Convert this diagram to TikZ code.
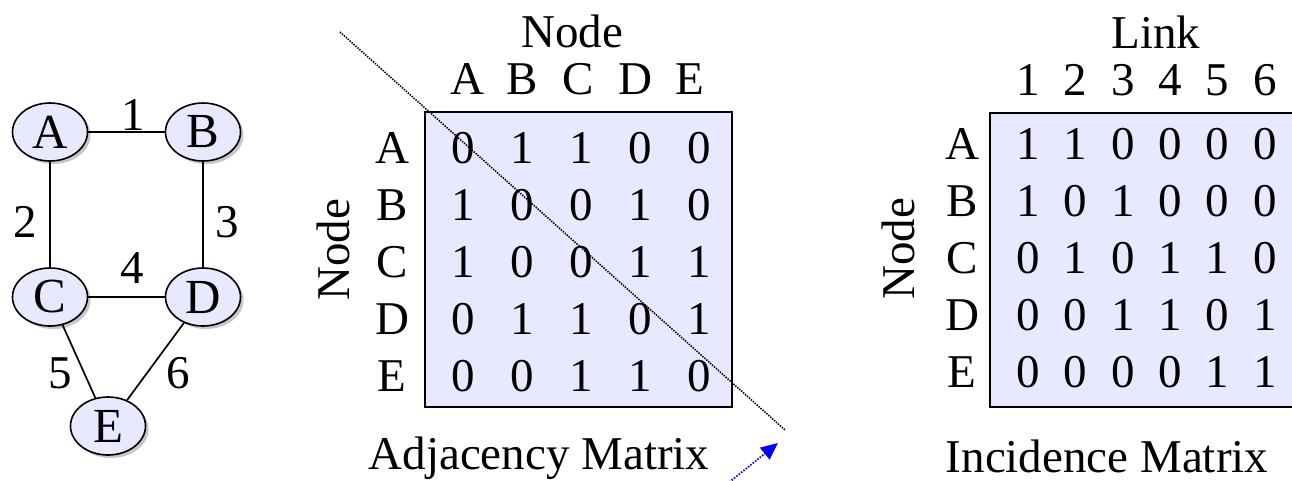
\documentclass[tikz,border=0pt]{standalone}
\usepackage{fontspec}
\setmainfont{Liberation Serif}
\usetikzlibrary{shapes.geometric,shadows,arrows.meta}
\definecolor{lav}{RGB}{232,232,255}
\begin{document}
\begin{tikzpicture}[x=1pt,y=-1pt,
  every node/.style={inner sep=0pt, font=\fontsize{47}{52}\selectfont},
  gnode/.style={ellipse, draw, line width=1.6pt, fill=lav, minimum width=75pt, minimum height=58pt,
    font=\fontsize{49}{54}\selectfont,
    drop shadow={shadow xshift=3pt, shadow yshift=-3pt, opacity=0.45, fill=gray}},
  edge/.style={line width=1.7pt},
  lbl/.style={anchor=base},
  mbox/.style={draw, fill=lav, line width=1.8pt},
  diag/.style={line width=1.6pt, dash pattern=on 1.4pt off 1.2pt},
  blarrow/.style={blue, line width=1.8pt, dash pattern=on 1.5pt off 1.5pt, -{Triangle[length=17pt,width=15pt]}}
]
\useasboundingbox (0,0) rectangle (1292,480);

% ---- graph ----
\node[gnode] (A) at (50,132) {A};
\node[gnode] (B) at (203,132) {B};
\node[gnode] (C) at (50,297) {C};
\node[gnode] (D) at (203,297) {D};
\node[gnode] (E) at (108,426) {E};
\draw[edge] (A) -- (B);
\draw[edge] (A) -- (C);
\draw[edge] (B) -- (D);
\draw[edge] (C) -- (D);
\draw[edge] (C) -- (E);
\draw[edge] (D) -- (E);
\node[lbl] (l1) at (133,130) {1};
\node[lbl] (l2) at (25,237) {2};
\node[lbl] (l3) at (227,237) {3};
\node[lbl] (l4) at (132,283) {4};
\node[lbl] (l5) at (60,388) {5};
\node[lbl] (l6) at (178,388) {6};

% ---- adjacency matrix ----
\node[mbox, minimum width=307pt, minimum height=295pt] (adj) at (578.5,259.5) {};
\node[lbl] (adjtitle) at (572,47) {Node};
\foreach \l/\x in {A/467,B/522,C/578,D/635,E/690}
  \node[lbl] (ah\l) at (\x,94) {\l};
\node[lbl, rotate=90] (adjside) at (349,250) {Node};
\foreach \l/\y in {A/163,B/220,C/277,D/334,E/391}
  \node[lbl] (ar\l) at (392,\y) {\l};
\foreach \row/\y in {{0,1,1,0,0}/163,{1,0,0,1,0}/220,{1,0,0,1,1}/277,{0,1,1,0,1}/334,{0,0,1,1,0}/391}{
  \foreach \v [count=\i] in \row {
    \pgfmathsetmacro{\xx}{463+(\i-1)*59}
    \node[lbl] (a\i-\y) at (\xx,\y) {\v};
  }
}
\node[lbl] (adjcap) at (539,469) {Adjacency Matrix};
\coordinate (d1) at (340,32);
\coordinate (d2) at (785,430);
\draw[diag] (d1) -- (d2);
\coordinate (b1) at (727,484);
\coordinate (b2) at (778,443);
\draw[blarrow] (b1) -- (b2);

% ---- incidence matrix ----
\node[mbox, minimum width=312pt, minimum height=294pt] (inc) at (1146,260) {};
\node[lbl] (inctitle) at (1156,48) {Link};
\foreach \l [count=\i] in {1,2,3,4,5,6}{
  \pgfmathsetmacro{\xx}{1028+(\i-1)*47.4}
  \node[lbl] (ih\l) at (\xx,95) {\l};
}
\node[lbl, rotate=90] (incside) at (914,249) {Node};
\foreach \l/\y in {A/159,B/216,C/273,D/330,E/387}
  \node[lbl] (ir\l) at (962,\y) {\l};
\foreach \row/\y in {{1,1,0,0,0,0}/159,{1,0,1,0,0,0}/216,{0,1,0,1,1,0}/273,{0,0,1,1,0,1}/330,{0,0,0,0,1,1}/387}{
  \foreach \v [count=\i] in \row {
    \pgfmathsetmacro{\xx}{1028+(\i-1)*47.4}
    \node[lbl] (i\i-\y) at (\xx,\y) {\v};
  }
}
\node[lbl] (inccap) at (1107,472) {Incidence Matrix};
\end{tikzpicture}
\end{document}
